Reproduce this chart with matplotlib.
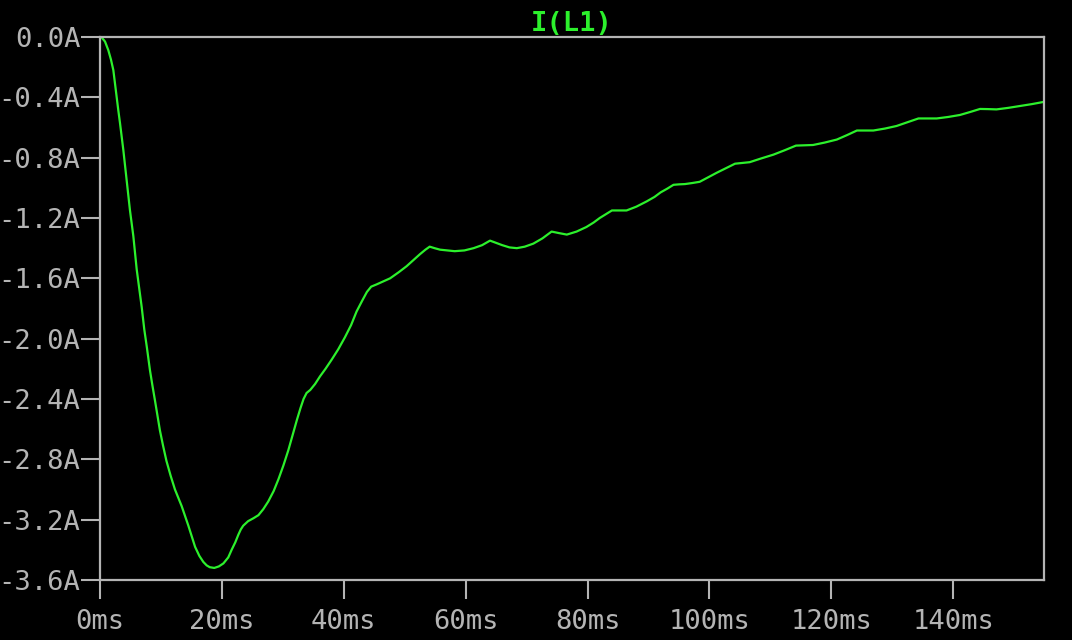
import numpy as np
import matplotlib
matplotlib.use("Agg")
import matplotlib.pyplot as plt
from matplotlib.ticker import FuncFormatter

# time (ms) and inductor current (A)
t_ms = [0, 0.27, 0.82, 1.36, 1.8, 2.19, 2.46, 2.73, 3.0, 3.28, 3.83, 4.37,
        4.92, 5.47, 6.02, 6.45, 6.84, 7.27, 7.7, 8.2, 8.6, 9.02, 9.84,
        10.35, 10.9, 11.6, 12.3, 12.85, 13.4, 14.5, 15.6, 16.3, 16.95,
        17.5, 18.0, 18.75, 19.5, 20.25, 21.05, 21.6, 22.2, 22.7, 23.1,
        23.5, 24.3, 25.2, 26.0, 26.8, 27.6, 28.5, 29.3, 30.1, 30.9, 31.6,
        32.3, 32.9, 33.4, 33.9, 34.5, 35.3, 36.1, 37.0, 38.0, 39.1, 40.2,
        41.2, 42.1, 43.0, 43.8, 44.5, 45.4, 46.5, 47.6, 49.0, 50.3, 51.4,
        52.5, 53.4, 54.1, 54.9, 55.8, 57.0, 58.2, 59.8, 61.3, 62.7, 64.0,
        65.0, 66.0, 67.2, 68.4, 69.7, 71.1, 72.6, 74.1, 75.3, 76.6, 78.2,
        79.8, 81.0, 82.0, 83.0, 84.0, 85.2, 86.4, 88.0, 89.7, 91.0, 92.0,
        93.1, 94.1, 95.0, 96.0, 97.2, 98.4, 99.8, 101.2, 102.7, 104.2,
        105.4, 106.6, 108.5, 110.5, 112.4, 114.2, 115.6, 117.0, 118.9,
        120.9, 122.6, 124.2, 125.5, 126.9, 128.8, 130.7, 132.5, 134.3,
        135.8, 137.3, 139.2, 141.1, 142.8, 144.4, 145.7, 147.1, 149.0,
        150.9, 152.9, 154.9]
i_L1 = [0, -0.003, -0.03, -0.087, -0.15, -0.22, -0.31, -0.40, -0.485,
        -0.57, -0.75, -0.95, -1.15, -1.32, -1.54, -1.67, -1.79, -1.94,
        -2.06, -2.21, -2.31, -2.41, -2.61, -2.71, -2.81, -2.91, -3.0,
        -3.055, -3.11, -3.24, -3.38, -3.44, -3.48, -3.503, -3.515, -3.52,
        -3.51, -3.49, -3.45, -3.40, -3.35, -3.30, -3.265, -3.24, -3.21,
        -3.19, -3.17, -3.13, -3.08, -3.01, -2.93, -2.84, -2.74, -2.64,
        -2.54, -2.46, -2.40, -2.36, -2.34, -2.30, -2.25, -2.20, -2.14,
        -2.07, -1.99, -1.91, -1.82, -1.75, -1.69, -1.655, -1.64, -1.62,
        -1.60, -1.56, -1.52, -1.48, -1.44, -1.41, -1.39, -1.40, -1.41,
        -1.415, -1.42, -1.415, -1.40, -1.38, -1.35, -1.365, -1.38, -1.395,
        -1.40, -1.39, -1.37, -1.335, -1.29, -1.30, -1.31, -1.29, -1.26,
        -1.23, -1.20, -1.175, -1.15, -1.15, -1.15, -1.125, -1.09, -1.06,
        -1.03, -1.005, -0.98, -0.977, -0.975, -0.968, -0.96, -0.93, -0.90,
        -0.87, -0.84, -0.835, -0.83, -0.805, -0.78, -0.75, -0.72, -0.718,
        -0.716, -0.70, -0.68, -0.65, -0.62, -0.62, -0.62, -0.607, -0.59,
        -0.565, -0.54, -0.54, -0.54, -0.53, -0.517, -0.497, -0.477, -0.478,
        -0.48, -0.47, -0.458, -0.445, -0.43]

x_ticks = [0, 20, 40, 60, 80, 100, 120, 140]
y_ticks = [0.0, -0.4, -0.8, -1.2, -1.6, -2.0, -2.4, -2.8, -3.2, -3.6]

fg = '#b4b4b4'
green = '#2cf02c'

fig = plt.figure(figsize=(10.72, 6.4), dpi=100, facecolor='black')
ax = fig.add_axes([100 / 1072, 1 - 580 / 640, 944 / 1072, 543 / 640])
ax.set_facecolor('black')

ax.plot(t_ms, i_L1, color=green, lw=1.6, solid_joinstyle='round')

ax.set_xlim(0, 154.9)
ax.set_ylim(-3.6, 0.0)
ax.set_xticks(x_ticks)
ax.set_yticks(y_ticks)
ax.xaxis.set_major_formatter(FuncFormatter(lambda v, p: f"{v:.0f}ms"))
ax.yaxis.set_major_formatter(FuncFormatter(lambda v, p: f"{v:.1f}A".replace("-0.0A", "0.0A")))

for s in ax.spines.values():
    s.set_color(fg)
    s.set_linewidth(1.6)

ax.tick_params(axis='both', colors=fg, length=14, width=1.5, direction='out')
ax.tick_params(axis='x', pad=7)
ax.tick_params(axis='y', pad=0)
for lab in ax.get_xticklabels() + ax.get_yticklabels():
    lab.set_family('DejaVu Sans Mono')
    lab.set_fontsize(19.5)
    lab.set_color(fg)

ax.set_title('I(L1)', color=green, family='DejaVu Sans Mono', fontsize=19.5,
             fontweight='bold', pad=4)

fig.savefig('out.png', dpi=100, facecolor='black')
